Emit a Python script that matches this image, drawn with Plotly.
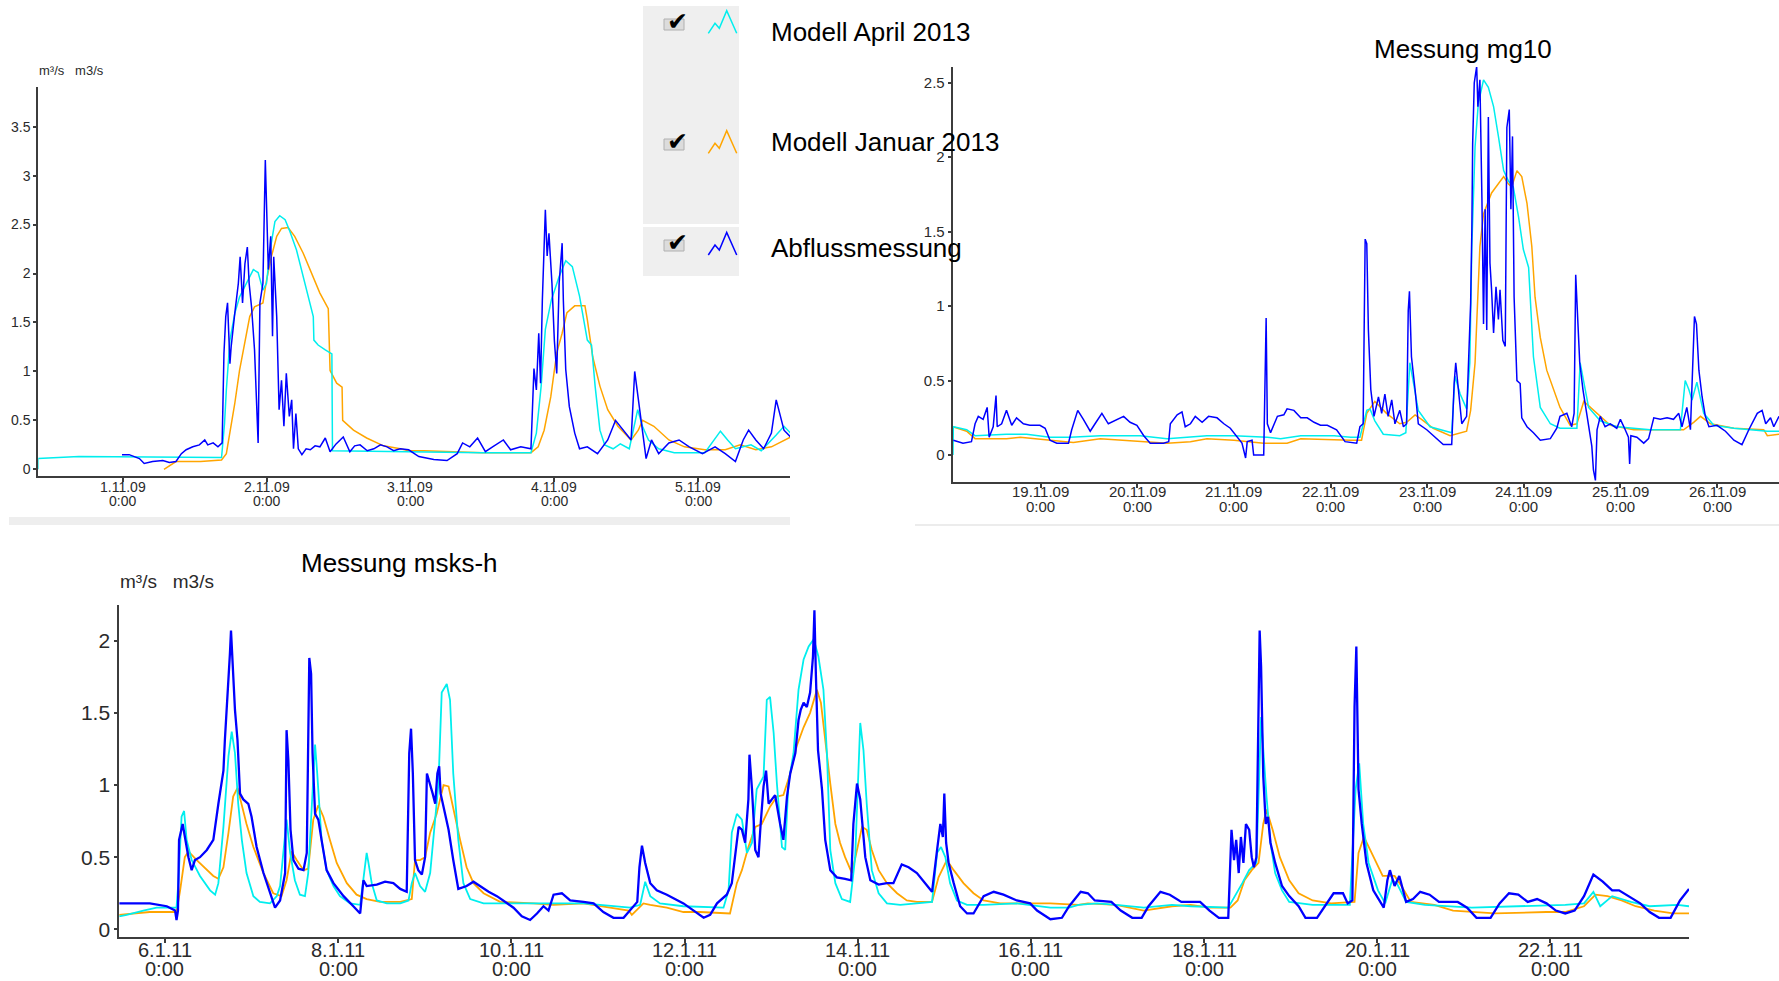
import pandas as pd
import plotly.graph_objects as go

W, H = 1779, 981
FONT = "Liberation Sans, Arial, Helvetica, sans-serif"
C_BLUE = "#0000ff"
C_CYAN = "#00eeee"
C_ORANGE = "#ffa500"

SERIES_NAMES = ["Modell April 2013", "Modell Januar 2013", "Abflussmessung"]
PANEL_TITLES = ["Messung mg10", "Messung msks-h"]
UNIT_LABEL = "m³/s   m3/s"
TIME_LABEL = "0:00"

# ---------------- top-left panel (hours after 1.11.2009 0:00, m3/s) ----------------
tl_start = "2009-11-01"
tl_tick_hours = [0, 24, 48, 72, 96]
tl_tick_labels = ["1.11.09", "2.11.09", "3.11.09", "4.11.09", "5.11.09"]
tl_yticks = [0, 0.5, 1, 1.5, 2, 2.5, 3, 3.5]

tl_cyan = [(-14.1, 0.0), (-14.1, 0.11), (-7.3, 0.13), (8.4, 0.12), (16.5, 0.12), (17.0, 0.47), (17.3, 0.81),
           (17.9, 1.32), (18.7, 1.59), (19.5, 1.76), (20.9, 1.93), (21.8, 2.04), (22.6, 2.01), (23.4, 1.83),
           (24.0, 1.90), (24.6, 2.24), (25.4, 2.53), (26.2, 2.59), (27.1, 2.55), (27.9, 2.43), (29.0, 2.24),
           (30.1, 1.97), (31.0, 1.76), (31.8, 1.56), (31.9, 1.32), (32.6, 1.27), (33.8, 1.22), (34.9, 1.18),
           (35.0, 0.19), (45.0, 0.18), (60.0, 0.17), (68.1, 0.17), (69.0, 0.37), (69.8, 0.85), (70.5, 1.43),
           (71.5, 1.73), (72.8, 1.97), (73.9, 2.13), (75.0, 2.07), (76.2, 1.77), (77.5, 1.32), (78.2, 1.27),
           (78.8, 0.85), (79.6, 0.40), (80.4, 0.25), (81.8, 0.21), (83.0, 0.26), (84.5, 0.21), (85.9, 0.61),
           (86.7, 0.44), (87.7, 0.30), (89.4, 0.21), (92.0, 0.17), (97.1, 0.17), (98.6, 0.30), (99.7, 0.39),
           (100.9, 0.30), (102.2, 0.21), (104.8, 0.25), (106.5, 0.19), (109.0, 0.35), (110.3, 0.44), (111.4, 0.37)]

tl_orange = [(6.9, 0.0), (8.9, 0.08), (13.0, 0.08), (16.5, 0.095), (17.3, 0.16), (17.9, 0.37), (18.7, 0.67),
             (19.5, 1.01), (20.4, 1.29), (21.2, 1.56), (22.0, 1.66), (23.4, 1.70), (24.0, 1.93), (24.8, 2.17),
             (25.7, 2.38), (26.5, 2.46), (27.6, 2.47), (28.7, 2.38), (30.1, 2.21), (31.5, 2.00), (32.9, 1.80),
             (34.3, 1.64), (34.6, 1.01), (35.7, 0.88), (36.6, 0.84), (36.7, 0.50), (38.5, 0.40), (40.7, 0.32),
             (43.5, 0.24), (46.3, 0.21), (47.7, 0.19), (50.3, 0.19), (60.0, 0.17), (68.1, 0.17), (69.3, 0.23),
             (70.3, 0.40), (71.4, 0.74), (72.4, 1.19), (73.3, 1.39), (74.1, 1.60), (75.4, 1.67), (77.1, 1.67),
             (77.5, 1.53), (78.4, 1.15), (79.6, 0.85), (80.9, 0.61), (82.6, 0.44), (84.8, 0.30), (86.0, 0.40),
             (86.7, 0.50), (88.6, 0.44), (91.1, 0.30), (93.7, 0.23), (97.1, 0.20), (100.5, 0.20), (103.0, 0.25),
             (105.6, 0.20), (108.2, 0.23), (109.9, 0.28), (111.4, 0.33)]

tl_blue = [(-0.1, 0.15), (1.1, 0.15), (2.8, 0.11), (3.6, 0.06), (5.0, 0.08), (6.7, 0.09), (7.8, 0.07), (8.9, 0.08),
           (9.8, 0.16), (10.6, 0.20), (11.7, 0.23), (12.8, 0.25), (13.7, 0.30), (14.2, 0.25), (15.1, 0.27),
           (15.9, 0.23), (16.6, 0.27), (16.9, 1.18), (17.2, 1.56), (17.5, 1.70), (17.9, 1.08), (18.1, 1.25),
           (18.7, 1.59), (19.3, 1.90), (19.6, 2.17), (20.0, 1.70), (20.4, 2.10), (20.8, 2.27), (21.1, 1.90),
           (21.5, 1.66), (22.0, 1.22), (22.6, 0.27), (22.9, 1.70), (23.4, 1.90), (23.8, 3.16), (24.0, 2.58),
           (24.3, 2.04), (24.7, 2.38), (25.0, 1.36), (25.2, 2.17), (25.7, 1.56), (26.1, 0.61), (26.5, 0.91),
           (26.9, 0.44), (27.3, 0.98), (27.8, 0.54), (28.2, 0.71), (28.5, 0.21), (28.9, 0.57), (29.3, 0.21),
           (29.9, 0.15), (30.6, 0.21), (31.3, 0.20), (32.1, 0.24), (32.9, 0.23), (33.8, 0.32), (34.6, 0.18),
           (35.6, 0.26), (36.8, 0.33), (37.9, 0.18), (38.7, 0.24), (39.6, 0.25), (40.8, 0.19), (41.9, 0.21),
           (43.0, 0.25), (44.1, 0.23), (45.2, 0.19), (46.3, 0.21), (47.7, 0.20), (49.4, 0.13), (51.9, 0.10),
           (54.1, 0.09), (55.8, 0.16), (56.7, 0.27), (57.9, 0.23), (59.2, 0.32), (60.5, 0.18), (61.7, 0.23),
           (63.5, 0.30), (64.7, 0.20), (66.4, 0.23), (68.1, 0.21), (68.6, 1.03), (69.0, 0.81), (69.4, 1.39),
           (69.7, 0.88), (70.0, 1.73), (70.5, 2.65), (70.8, 2.18), (71.1, 2.41), (71.6, 1.90), (72.0, 1.32),
           (72.4, 0.98), (72.8, 1.90), (73.3, 2.31), (73.5, 1.73), (73.9, 1.02), (74.5, 0.64), (75.4, 0.37),
           (76.2, 0.21), (77.5, 0.23), (79.2, 0.16), (80.9, 0.30), (82.2, 0.50), (83.0, 0.44), (83.9, 0.37),
           (84.8, 0.30), (85.4, 1.00), (86.0, 0.71), (86.7, 0.37), (87.3, 0.11), (88.2, 0.30), (89.4, 0.16),
           (91.1, 0.27), (92.8, 0.30), (94.5, 0.23), (96.7, 0.16), (98.8, 0.23), (100.5, 0.16), (102.2, 0.08),
           (103.5, 0.30), (104.4, 0.40), (105.6, 0.30), (106.9, 0.21), (108.2, 0.37), (109.0, 0.71),
           (109.4, 0.61), (110.3, 0.40), (111.4, 0.33)]

# ---------------- top-right panel (hours after 19.11.2009 0:00) ----------------
tr_start = "2009-11-19"
tr_tick_hours = [0, 24, 48, 72, 96, 120, 144, 168]
tr_tick_labels = ["19.11.09", "20.11.09", "21.11.09", "22.11.09", "23.11.09", "24.11.09", "25.11.09", "26.11.09"]
tr_yticks = [0, 0.5, 1, 1.5, 2, 2.5]

tr_cyan = [(-21.8, 0.0), (-21.7, 0.19), (-18.4, 0.17), (-16.3, 0.13), (-8.5, 0.14), (-3.5, 0.14), (2.3, 0.12),
           (7.3, 0.12), (14.8, 0.13), (24.7, 0.13), (31.4, 0.11), (35.5, 0.12), (41.3, 0.13), (48.0, 0.13),
           (56.3, 0.12), (59.6, 0.11), (64.6, 0.13), (72.9, 0.13), (77.0, 0.12), (79.3, 0.12), (81.0, 0.30),
           (81.8, 0.31), (83.0, 0.23), (85.1, 0.14), (89.2, 0.13), (90.7, 0.15), (91.7, 0.62), (92.5, 0.50),
           (93.8, 0.30), (96.7, 0.19), (100.9, 0.16), (102.1, 0.15), (102.9, 0.53), (104.2, 0.41), (105.8, 0.31),
           (106.6, 0.62), (107.1, 1.40), (107.9, 2.07), (108.7, 2.36), (110.0, 2.52), (111.2, 2.47), (112.5, 2.34),
           (113.7, 2.14), (115.0, 1.91), (116.2, 1.84), (117.4, 1.80), (118.7, 1.60), (119.9, 1.38), (121.2, 1.26),
           (121.6, 1.06), (122.4, 0.66), (124.1, 0.32), (126.6, 0.21), (129.0, 0.18), (133.2, 0.18), (134.0, 0.62),
           (134.9, 0.50), (136.1, 0.32), (139.0, 0.23), (143.1, 0.19), (151.4, 0.17), (158.9, 0.17), (160.1, 0.50),
           (161.0, 0.44), (161.8, 0.37), (163.0, 0.49), (164.7, 0.28), (167.2, 0.20), (172.2, 0.18), (180.5, 0.16),
           (183.4, 0.16)]

tr_orange = [(-21.8, 0.19), (-18.4, 0.16), (-16.3, 0.11), (-8.5, 0.11), (-5.1, 0.12), (1.5, 0.10), (8.1, 0.085),
             (14.8, 0.11), (21.4, 0.10), (31.4, 0.08), (37.2, 0.09), (41.3, 0.11), (48.0, 0.10), (55.4, 0.08),
             (61.2, 0.08), (64.6, 0.11), (77.0, 0.10), (79.7, 0.10), (81.0, 0.28), (83.0, 0.36), (85.9, 0.28),
             (89.2, 0.21), (90.9, 0.22), (93.0, 0.27), (94.6, 0.24), (97.5, 0.18), (101.7, 0.13), (105.8, 0.16),
             (106.8, 0.30), (107.9, 0.62), (109.1, 1.40), (110.0, 1.62), (112.0, 1.76), (113.7, 1.82),
             (115.0, 1.87), (116.2, 1.82), (117.0, 1.80), (118.3, 1.91), (119.5, 1.87), (120.8, 1.69),
             (122.0, 1.40), (122.8, 1.06), (124.1, 0.79), (125.7, 0.57), (127.4, 0.44), (129.0, 0.32),
             (131.5, 0.20), (133.2, 0.21), (134.9, 0.36), (136.5, 0.32), (139.0, 0.26), (141.5, 0.20),
             (147.3, 0.17), (159.7, 0.17), (162.2, 0.22), (163.9, 0.26), (166.4, 0.21), (172.2, 0.18),
             (179.6, 0.17), (180.5, 0.13), (183.4, 0.14)]

tr_blue = [(-21.7, 0.10), (-19.3, 0.08), (-17.2, 0.09), (-16.3, 0.21), (-15.5, 0.26), (-14.3, 0.24), (-13.3, 0.32),
           (-12.8, 0.12), (-11.8, 0.19), (-11.1, 0.40), (-10.8, 0.19), (-9.7, 0.21), (-8.5, 0.30), (-7.2, 0.20),
           (-6.0, 0.25), (-4.3, 0.21), (-2.7, 0.20), (-0.2, 0.20), (1.1, 0.18), (2.3, 0.10), (4.0, 0.08),
           (6.9, 0.08), (7.7, 0.17), (9.2, 0.30), (10.6, 0.24), (12.3, 0.16), (13.5, 0.21), (15.2, 0.28),
           (16.8, 0.21), (18.9, 0.24), (20.6, 0.26), (22.2, 0.22), (23.9, 0.20), (25.6, 0.13), (27.2, 0.08),
           (30.5, 0.08), (31.8, 0.09), (32.2, 0.21), (33.9, 0.27), (35.1, 0.29), (35.9, 0.19), (37.2, 0.21),
           (38.4, 0.26), (40.1, 0.22), (41.7, 0.26), (43.8, 0.25), (45.5, 0.21), (47.1, 0.18), (48.8, 0.12),
           (50.0, 0.08), (50.9, -0.02), (51.3, 0.09), (52.5, 0.10), (52.9, 0.0), (55.4, 0.0), (55.7, 0.53),
           (56.0, 0.92), (56.3, 0.21), (57.1, 0.15), (58.8, 0.26), (60.4, 0.27), (61.2, 0.31), (62.9, 0.30),
           (64.6, 0.25), (66.2, 0.25), (67.9, 0.22), (69.5, 0.20), (71.2, 0.20), (73.5, 0.17), (75.6, 0.09),
           (78.5, 0.08), (79.3, 0.19), (80.1, 0.21), (80.4, 0.97), (80.6, 1.45), (81.0, 1.42), (81.4, 0.84),
           (82.0, 0.44), (82.8, 0.26), (83.9, 0.39), (84.7, 0.28), (85.5, 0.41), (86.3, 0.26), (87.2, 0.37),
           (88.0, 0.21), (89.2, 0.30), (90.1, 0.19), (90.9, 0.21), (91.3, 0.97), (91.6, 1.10), (92.1, 0.66),
           (93.0, 0.44), (93.8, 0.21), (95.9, 0.17), (98.4, 0.11), (100.0, 0.07), (102.1, 0.07), (102.7, 0.48),
           (103.1, 0.62), (103.8, 0.41), (104.6, 0.21), (105.8, 0.26), (106.2, 0.62), (106.8, 1.02),
           (107.1, 1.51), (107.3, 2.09), (107.7, 2.50), (108.3, 2.61), (108.6, 2.34), (109.1, 2.52),
           (109.6, 1.73), (110.0, 0.88), (110.4, 1.65), (110.8, 0.84), (111.2, 2.27), (111.6, 1.29),
           (112.0, 1.11), (112.5, 0.82), (113.1, 1.13), (113.7, 0.91), (114.1, 1.11), (114.8, 0.77),
           (115.4, 0.73), (115.8, 2.20), (116.4, 2.32), (116.8, 1.65), (117.2, 2.14), (117.6, 1.06),
           (118.3, 0.50), (119.1, 0.48), (119.5, 0.25), (120.8, 0.19), (122.4, 0.15), (124.1, 0.10),
           (126.6, 0.11), (128.2, 0.18), (129.0, 0.26), (130.7, 0.28), (131.9, 0.19), (132.5, 0.28),
           (132.9, 1.21), (133.2, 1.00), (133.9, 0.62), (134.7, 0.44), (135.7, 0.26), (136.9, 0.06),
           (137.3, -0.10), (137.8, -0.17), (138.2, 0.17), (139.0, 0.26), (140.2, 0.19), (141.5, 0.21),
           (143.1, 0.18), (144.0, 0.24), (145.2, 0.17), (146.0, 0.12), (146.3, -0.06), (146.6, 0.13),
           (148.1, 0.12), (149.8, 0.08), (151.0, 0.11), (152.3, 0.25), (153.9, 0.24), (155.6, 0.25),
           (157.2, 0.24), (158.5, 0.28), (159.3, 0.19), (160.5, 0.32), (161.4, 0.17), (162.4, 0.93),
           (162.9, 0.88), (163.5, 0.57), (164.3, 0.39), (165.1, 0.26), (166.0, 0.19), (168.0, 0.20),
           (170.1, 0.16), (172.2, 0.10), (174.2, 0.07), (175.9, 0.17), (178.0, 0.28), (179.2, 0.30),
           (180.1, 0.21), (181.3, 0.25), (182.1, 0.19), (183.4, 0.26)]

# ---------------- bottom panel (hours after 6.1.2011 0:00) ----------------
bt_start = "2011-01-06"
bt_tick_hours = [0, 48, 96, 144, 192, 240, 288, 336, 384]
bt_tick_labels = ["6.1.11", "8.1.11", "10.1.11", "12.1.11", "14.1.11", "16.1.11", "18.1.11", "20.1.11", "22.1.11"]
bt_yticks = [0, 0.5, 1, 1.5, 2]

bt_cyan = [(-12.7, 0.09), (-10.6, 0.10), (-6.0, 0.13), (-2.3, 0.15), (3.2, 0.15), (3.7, 0.32), (4.6, 0.78),
           (5.3, 0.82), (6.0, 0.62), (7.4, 0.48), (9.7, 0.37), (12.5, 0.27), (13.9, 0.24), (14.8, 0.32),
           (16.2, 0.71), (17.6, 1.20), (18.5, 1.37), (19.4, 1.22), (20.3, 0.87), (21.3, 0.62), (22.6, 0.39),
           (24.5, 0.23), (26.3, 0.19), (29.1, 0.18), (31.0, 0.23), (31.9, 0.30), (32.6, 0.48), (33.7, 0.76),
           (34.7, 0.53), (36.0, 0.34), (37.4, 0.24), (38.8, 0.23), (39.7, 0.39), (40.7, 0.90), (41.6, 1.28),
           (42.2, 1.08), (43.4, 0.62), (44.8, 0.41), (46.7, 0.30), (48.5, 0.23), (51.3, 0.18), (54.1, 0.17),
           (55.0, 0.37), (55.9, 0.53), (56.4, 0.46), (57.3, 0.32), (58.7, 0.20), (61.5, 0.18), (65.2, 0.18),
           (67.5, 0.20), (68.4, 0.32), (69.3, 0.39), (70.7, 0.30), (72.1, 0.26), (73.5, 0.39), (74.4, 0.62),
           (75.8, 1.01), (76.7, 1.64), (78.1, 1.70), (79.0, 1.59), (79.9, 1.08), (81.3, 0.62), (82.7, 0.32),
           (84.6, 0.21), (88.3, 0.18), (97.5, 0.18), (106.7, 0.18), (116.0, 0.18), (120.6, 0.17), (128.9, 0.15),
           (131.7, 0.17), (133.1, 0.33), (134.5, 0.23), (137.2, 0.18), (143.7, 0.16), (154.8, 0.15),
           (156.2, 0.27), (157.1, 0.67), (158.5, 0.80), (159.9, 0.76), (161.3, 0.53), (162.7, 0.60),
           (164.0, 0.97), (165.9, 1.06), (166.8, 1.59), (167.7, 1.61), (168.7, 1.36), (169.6, 1.01),
           (171.0, 0.57), (171.9, 0.55), (172.8, 1.01), (174.2, 1.22), (175.6, 1.66), (177.0, 1.87),
           (178.4, 1.96), (179.8, 2.01), (181.1, 1.89), (182.5, 1.66), (183.5, 1.20), (184.4, 0.55),
           (185.8, 0.32), (187.6, 0.21), (189.9, 0.19), (191.3, 0.50), (192.7, 1.43), (193.6, 1.24),
           (194.5, 0.87), (195.9, 0.41), (197.8, 0.25), (200.1, 0.18), (203.8, 0.17), (209.3, 0.18),
           (212.6, 0.19), (214.0, 0.53), (215.1, 0.57), (216.3, 0.50), (217.6, 0.32), (219.5, 0.20),
           (222.3, 0.17), (226.9, 0.17), (236.1, 0.18), (245.4, 0.15), (250.6, 0.15), (253.2, 0.17),
           (258.4, 0.18), (263.6, 0.17), (271.3, 0.15), (279.1, 0.17), (284.3, 0.16), (294.7, 0.15),
           (296.6, 0.23), (298.6, 0.32), (300.5, 0.41), (302.5, 0.46), (303.8, 1.47), (304.4, 1.24),
           (305.3, 0.92), (306.4, 0.60), (307.7, 0.39), (309.6, 0.27), (311.6, 0.19), (318.1, 0.17),
           (328.4, 0.17), (330.0, 0.97), (331.0, 1.15), (332.1, 0.73), (333.6, 0.46), (336.2, 0.27),
           (338.2, 0.18), (340.1, 0.34), (341.4, 0.32), (344.0, 0.19), (349.2, 0.17), (362.2, 0.15),
           (375.1, 0.16), (388.1, 0.17), (393.3, 0.18), (395.9, 0.26), (397.8, 0.16), (401.1, 0.23),
           (406.3, 0.19), (411.5, 0.16), (419.2, 0.17), (422.4, 0.16)]

bt_orange = [(-12.7, 0.10), (-8.8, 0.11), (-4.2, 0.12), (3.2, 0.12), (4.2, 0.27), (5.5, 0.50), (6.5, 0.54),
             (8.8, 0.48), (11.6, 0.41), (13.4, 0.37), (14.8, 0.35), (16.2, 0.43), (17.6, 0.67), (18.9, 0.92),
             (20.1, 0.98), (21.3, 0.85), (22.6, 0.73), (24.5, 0.57), (27.3, 0.39), (30.0, 0.25), (32.3, 0.23),
             (33.7, 0.34), (35.1, 0.54), (36.5, 0.48), (38.4, 0.41), (39.7, 0.42), (41.1, 0.76), (42.5, 0.86),
             (43.9, 0.78), (45.7, 0.62), (47.6, 0.46), (50.4, 0.32), (53.1, 0.24), (55.9, 0.21), (59.6, 0.19),
             (65.2, 0.19), (68.4, 0.21), (69.3, 0.48), (70.7, 0.48), (72.1, 0.50), (73.5, 0.67), (75.3, 0.80),
             (77.2, 1.00), (78.6, 0.99), (79.9, 0.83), (81.8, 0.62), (83.6, 0.43), (85.5, 0.32), (88.3, 0.25),
             (92.9, 0.19), (102.1, 0.18), (107.7, 0.17), (116.0, 0.18), (121.5, 0.16), (128.5, 0.13),
             (129.4, 0.10), (132.6, 0.18), (134.5, 0.17), (139.1, 0.15), (143.7, 0.12), (148.3, 0.12),
             (156.6, 0.11), (158.5, 0.32), (159.9, 0.41), (161.7, 0.57), (163.6, 0.71), (165.4, 0.73),
             (167.7, 0.85), (169.6, 0.92), (171.4, 0.93), (173.3, 1.08), (175.1, 1.27), (177.0, 1.40),
             (178.8, 1.50), (180.7, 1.66), (181.8, 1.57), (183.0, 1.29), (184.4, 1.01), (185.8, 0.73),
             (187.1, 0.60), (188.5, 0.50), (190.4, 0.39), (191.8, 0.55), (193.2, 0.71), (194.5, 0.69),
             (195.9, 0.55), (197.8, 0.41), (200.1, 0.32), (202.9, 0.25), (205.6, 0.20), (208.4, 0.19),
             (212.6, 0.19), (214.4, 0.36), (216.7, 0.48), (218.6, 0.41), (221.3, 0.32), (224.1, 0.25),
             (226.9, 0.20), (231.5, 0.18), (239.8, 0.18), (245.4, 0.18), (253.2, 0.17), (255.8, 0.18),
             (263.6, 0.17), (271.3, 0.13), (279.1, 0.16), (284.3, 0.17), (289.5, 0.15), (295.3, 0.15),
             (297.3, 0.20), (299.2, 0.34), (301.2, 0.41), (303.1, 0.46), (304.4, 0.73), (305.3, 0.83),
             (307.0, 0.69), (309.0, 0.50), (311.6, 0.34), (314.2, 0.25), (318.1, 0.20), (323.2, 0.18),
             (329.7, 0.19), (330.8, 0.53), (332.3, 0.64), (334.9, 0.50), (337.5, 0.37), (340.8, 0.37),
             (342.7, 0.30), (345.3, 0.19), (351.8, 0.17), (357.0, 0.13), (362.2, 0.12), (368.6, 0.11),
             (382.9, 0.12), (388.1, 0.12), (393.3, 0.16), (396.5, 0.24), (399.8, 0.23), (403.7, 0.20),
             (407.6, 0.16), (412.8, 0.13), (418.0, 0.11), (422.4, 0.11)]

bt_blue = [(-12.7, 0.18), (-4.2, 0.18), (0.5, 0.16), (2.8, 0.13), (3.2, 0.065), (3.6, 0.13), (3.9, 0.62),
           (4.9, 0.73), (6.5, 0.50), (7.4, 0.41), (8.3, 0.48), (9.7, 0.50), (11.6, 0.55), (13.4, 0.62),
           (14.8, 0.87), (16.2, 1.10), (16.6, 1.31), (17.6, 1.70), (18.0, 1.91), (18.3, 2.07), (18.8, 1.82),
           (19.4, 1.52), (20.1, 1.31), (20.8, 0.94), (21.7, 0.90), (23.1, 0.87), (24.0, 0.78), (25.4, 0.57),
           (27.3, 0.39), (29.1, 0.25), (30.5, 0.15), (31.9, 0.20), (33.3, 0.39), (33.7, 1.38), (34.2, 1.17),
           (34.8, 0.69), (35.6, 0.48), (37.0, 0.42), (38.4, 0.41), (39.3, 0.53), (39.7, 1.20), (40.0, 1.88),
           (40.5, 1.77), (40.9, 1.22), (41.6, 0.80), (42.5, 0.76), (43.4, 0.62), (44.8, 0.41), (46.7, 0.32),
           (49.5, 0.23), (52.2, 0.16), (54.1, 0.11), (55.0, 0.34), (55.9, 0.30), (58.7, 0.31), (61.0, 0.33),
           (63.3, 0.32), (65.2, 0.28), (67.0, 0.26), (67.7, 1.22), (68.2, 1.39), (68.7, 1.08), (69.3, 0.48),
           (70.2, 0.41), (71.2, 0.38), (72.1, 0.50), (72.6, 1.08), (73.5, 1.01), (74.2, 0.94), (74.9, 0.87),
           (75.5, 1.08), (76.0, 1.13), (76.4, 0.94), (77.2, 0.85), (78.6, 0.69), (79.9, 0.48), (81.3, 0.28),
           (83.6, 0.30), (85.5, 0.33), (87.3, 0.30), (89.7, 0.26), (92.0, 0.23), (94.3, 0.19), (96.6, 0.15),
           (98.9, 0.09), (101.2, 0.065), (103.1, 0.11), (104.9, 0.16), (106.3, 0.13), (107.7, 0.24),
           (110.0, 0.25), (112.3, 0.20), (116.0, 0.19), (118.8, 0.18), (121.5, 0.12), (124.3, 0.08),
           (127.1, 0.08), (128.9, 0.13), (130.9, 0.19), (131.5, 0.43), (132.2, 0.58), (133.1, 0.46),
           (134.5, 0.32), (136.3, 0.27), (139.1, 0.24), (143.7, 0.18), (146.5, 0.13), (149.3, 0.08),
           (151.1, 0.10), (153.0, 0.18), (155.7, 0.24), (157.1, 0.32), (159.0, 0.71), (159.9, 0.69),
           (160.8, 0.60), (161.7, 0.90), (162.0, 1.21), (162.7, 0.97), (163.6, 0.55), (164.5, 0.50),
           (165.1, 0.73), (165.9, 0.99), (166.6, 1.10), (167.3, 0.87), (168.2, 0.90), (169.1, 0.93),
           (170.5, 0.73), (171.4, 0.62), (172.4, 0.92), (173.3, 1.08), (174.7, 1.22), (175.6, 1.45),
           (176.2, 1.52), (177.0, 1.57), (177.9, 1.54), (178.8, 1.64), (179.6, 1.89), (180.0, 2.21),
           (180.4, 1.77), (181.0, 1.24), (182.1, 0.97), (183.0, 0.62), (184.4, 0.41), (186.2, 0.36),
           (188.5, 0.35), (190.2, 0.34), (190.8, 0.73), (191.8, 1.01), (192.7, 0.90), (194.1, 0.50),
           (195.5, 0.34), (197.8, 0.31), (200.1, 0.32), (201.9, 0.32), (204.2, 0.45), (206.1, 0.43),
           (208.4, 0.39), (210.7, 0.32), (212.6, 0.26), (214.0, 0.55), (214.9, 0.73), (215.6, 0.64),
           (216.0, 0.94), (216.5, 0.60), (217.2, 0.46), (218.6, 0.32), (220.4, 0.16), (222.3, 0.11),
           (224.1, 0.11), (226.9, 0.23), (229.7, 0.26), (232.4, 0.24), (236.1, 0.20), (239.8, 0.18),
           (241.7, 0.13), (245.4, 0.07), (248.6, 0.08), (250.6, 0.16), (253.8, 0.26), (255.8, 0.25),
           (257.7, 0.20), (262.3, 0.19), (264.9, 0.13), (268.1, 0.08), (270.7, 0.08), (272.6, 0.16),
           (275.9, 0.26), (278.5, 0.24), (281.7, 0.19), (286.9, 0.19), (289.5, 0.13), (292.1, 0.08),
           (294.7, 0.08), (295.6, 0.69), (296.3, 0.48), (296.9, 0.62), (297.6, 0.39), (298.2, 0.64),
           (298.9, 0.46), (299.6, 0.73), (300.5, 0.69), (301.2, 0.50), (301.8, 0.43), (302.5, 0.50),
           (302.9, 1.08), (303.4, 2.07), (303.8, 1.82), (304.4, 1.06), (305.1, 0.73), (305.7, 0.78),
           (306.4, 0.60), (307.7, 0.46), (309.6, 0.30), (311.6, 0.23), (314.2, 0.16), (316.1, 0.08),
           (319.3, 0.08), (321.9, 0.18), (323.9, 0.25), (326.5, 0.25), (327.8, 0.18), (329.1, 0.20),
           (329.7, 1.54), (330.2, 1.96), (330.8, 0.97), (331.7, 0.73), (333.0, 0.46), (334.9, 0.27),
           (336.9, 0.18), (337.8, 0.15), (338.8, 0.34), (339.5, 0.41), (340.8, 0.30), (342.1, 0.37),
           (344.0, 0.19), (345.9, 0.21), (347.9, 0.26), (350.5, 0.24), (353.1, 0.19), (358.3, 0.19),
           (360.9, 0.15), (363.5, 0.08), (367.4, 0.08), (369.9, 0.18), (372.5, 0.25), (375.1, 0.24),
           (377.7, 0.19), (380.3, 0.21), (382.9, 0.18), (385.5, 0.13), (388.1, 0.11), (390.7, 0.13),
           (393.3, 0.23), (395.9, 0.38), (398.5, 0.33), (401.1, 0.27), (403.0, 0.27), (405.6, 0.23),
           (408.9, 0.18), (411.5, 0.12), (414.1, 0.08), (417.3, 0.08), (419.9, 0.20), (422.4, 0.28)]


def px_x(p):
    return p / W


def px_y(p):
    return 1 - p / H


def to_time(start, hours):
    base = pd.Timestamp(start)
    return [base + pd.Timedelta(hours=h) for h in hours]


panels = [
    dict(ax="", start=tl_start, data=(tl_orange, tl_cyan, tl_blue),
         xpx=(38.3, 790.0), ypx=(87.0, 476.0), xr=(-14.06, 111.3), yr=(-0.068, 3.905),
         yt=tl_yticks, th=tl_tick_hours, tl=tl_tick_labels, fs=14, yfs=14,
         lab_y=(487.0, 500.5), lw=1.5),
    dict(ax="2", start=tr_start, data=(tr_orange, tr_cyan, tr_blue),
         xpx=(952.7, 1779.0), ypx=(67.0, 481.7), xr=(-21.86, 183.4), yr=(-0.179, 2.606),
         yt=tr_yticks, th=tr_tick_hours, tl=tr_tick_labels, fs=15, yfs=15,
         lab_y=(491.7, 506.7), lw=1.5),
    dict(ax="3", start=bt_start, data=(bt_orange, bt_cyan, bt_blue),
         xpx=(119.3, 1689.0), ypx=(605.0, 936.7), xr=(-12.66, 422.4), yr=(-0.051, 2.247),
         yt=bt_yticks, th=bt_tick_hours, tl=bt_tick_labels, fs=20, yfs=21,
         lab_y=(950.0, 969.0), lw=2.3),
]

fig = go.Figure()
annotations = []
shapes = []
AX_COLOR = "#3c3c3c"
TXT = "#2a2a2a"

for p in panels:
    xref = "x" + p["ax"]
    yref = "y" + p["ax"]
    names = [SERIES_NAMES[1], SERIES_NAMES[0], SERIES_NAMES[2]]
    colors = [C_ORANGE, C_CYAN, C_BLUE]
    widths = [min(p["lw"], 1.8), min(p["lw"], 1.8), p["lw"]]
    for series, name, col, lw in zip(p["data"], names, colors, widths):
        hrs = [pt[0] for pt in series]
        vals = [pt[1] for pt in series]
        fig.add_trace(go.Scatter(x=to_time(p["start"], hrs), y=vals, mode="lines", name=name,
                                 line=dict(color=col, width=lw),
                                 xaxis=xref, yaxis=yref, showlegend=False, hoverinfo="skip"))
    xr = to_time(p["start"], list(p["xr"]))
    tickv = to_time(p["start"], p["th"])
    fig.update_layout(**{
        "xaxis" + p["ax"]: dict(
            domain=[px_x(p["xpx"][0]), px_x(p["xpx"][1])], anchor=yref, type="date", range=xr,
            tickvals=tickv, showticklabels=False, showline=True, linecolor=AX_COLOR, linewidth=2,
            ticks="outside", ticklen=4, tickwidth=1.5, tickcolor=AX_COLOR, showgrid=False, zeroline=False,
            automargin=False, fixedrange=True),
        "yaxis" + p["ax"]: dict(
            domain=[px_y(p["ypx"][1]), px_y(p["ypx"][0])], anchor=xref, range=list(p["yr"]),
            tickvals=p["yt"], ticktext=[f"{v:g}" for v in p["yt"]], showline=True, linecolor=AX_COLOR,
            linewidth=2, ticks="outside", ticklen=3, tickwidth=1.5, tickcolor=AX_COLOR, showgrid=False,
            zeroline=False, automargin=False,
            tickfont=dict(family=FONT, size=p["yfs"], color=TXT), fixedrange=True),
    })
    # two-line date tick labels placed on the axis' own date scale
    for t, lab in zip(tickv, p["tl"]):
        for txt, yy in ((lab, p["lab_y"][0]), (TIME_LABEL, p["lab_y"][1])):
            annotations.append(dict(x=t, y=px_y(yy), xref=xref, yref="paper", text=txt,
                                    showarrow=False, xanchor="center", yanchor="middle",
                                    font=dict(family=FONT, size=p["fs"], color=TXT)))

# unit labels and panel titles
annotations.append(dict(x=px_x(37), y=px_y(71), xref="paper", yref="paper", text=UNIT_LABEL, showarrow=False,
                        xanchor="left", yanchor="middle", font=dict(family=FONT, size=13, color=TXT)))
annotations.append(dict(x=px_x(118), y=px_y(581), xref="paper", yref="paper", text=UNIT_LABEL, showarrow=False,
                        xanchor="left", yanchor="middle", font=dict(family=FONT, size=19, color=TXT)))
annotations.append(dict(x=px_x(1372), y=px_y(49), xref="paper", yref="paper", text=PANEL_TITLES[0],
                        showarrow=False, xanchor="left", yanchor="middle",
                        font=dict(family=FONT, size=26, color="#000000")))
annotations.append(dict(x=px_x(299), y=px_y(563), xref="paper", yref="paper", text=PANEL_TITLES[1],
                        showarrow=False, xanchor="left", yanchor="middle",
                        font=dict(family=FONT, size=26, color="#000000")))

# separators below the top panels
shapes.append(dict(type="rect", xref="paper", yref="paper", x0=px_x(9), x1=px_x(790), y0=px_y(525),
                   y1=px_y(517), fillcolor="#eeeeee", line=dict(width=0), layer="above"))
shapes.append(dict(type="line", xref="paper", yref="paper", x0=px_x(915), x1=1.0, y0=px_y(525), y1=px_y(525),
                   line=dict(color="#ececec", width=2), layer="above"))

# custom legend panel
shapes.append(dict(type="rect", xref="paper", yref="paper", x0=px_x(643), x1=px_x(739), y0=px_y(224),
                   y1=px_y(6), fillcolor="#efefef", line=dict(width=0), layer="above"))
shapes.append(dict(type="rect", xref="paper", yref="paper", x0=px_x(643), x1=px_x(739), y0=px_y(276),
                   y1=px_y(227), fillcolor="#efefef", line=dict(width=0), layer="above"))

legend_rows = [(SERIES_NAMES[0], C_CYAN, 33.3, 21, 32), (SERIES_NAMES[1], C_ORANGE, 153.3, 141, 142),
               (SERIES_NAMES[2], C_BLUE, 255.0, 242, 248)]
zig_dx = [708.3, 715.0, 719.3, 726.7, 736.7]
zig_dy = [0.0, -10.0, -5.0, -22.6, 0.0]
for name, col, base_y, chk_y, txt_y in legend_rows:
    pts = [(px_x(x), px_y(base_y + dy)) for x, dy in zip(zig_dx, zig_dy)]
    path = "M " + " L ".join(f"{a:.5f},{b:.5f}" for a, b in pts)
    shapes.append(dict(type="path", xref="paper", yref="paper", path=path,
                       line=dict(color=col, width=1.5), layer="above"))
    shapes.append(dict(type="rect", xref="paper", yref="paper", x0=px_x(664), x1=px_x(684),
                       y0=px_y(chk_y + 9), y1=px_y(chk_y - 2), fillcolor="#dcdcdc",
                       line=dict(color="#b0b0b0", width=1), layer="above"))
    annotations.append(dict(x=px_x(677), y=px_y(chk_y), xref="paper", yref="paper", text="✔",
                            showarrow=False, xanchor="center", yanchor="middle",
                            font=dict(family="DejaVu Sans", size=25, color="#000000")))
    annotations.append(dict(x=px_x(769), y=px_y(txt_y), xref="paper", yref="paper", text=name,
                            showarrow=False, xanchor="left", yanchor="middle",
                            font=dict(family=FONT, size=26, color="#000000")))

fig.update_layout(
    template="none",
    width=W, height=H, autosize=False,
    margin=dict(l=0, r=0, t=0, b=0, pad=0),
    paper_bgcolor="#ffffff", plot_bgcolor="rgba(0,0,0,0)",
    showlegend=False,
    annotations=annotations, shapes=shapes,
    font=dict(family=FONT, color=TXT),
)

# remove the browser's default 8px page margin so the figure sits at the window origin
fig.write_html("out.html", config=dict(displayModeBar=False),
               post_script="document.body.style.margin='0';document.body.style.overflow='hidden';")
